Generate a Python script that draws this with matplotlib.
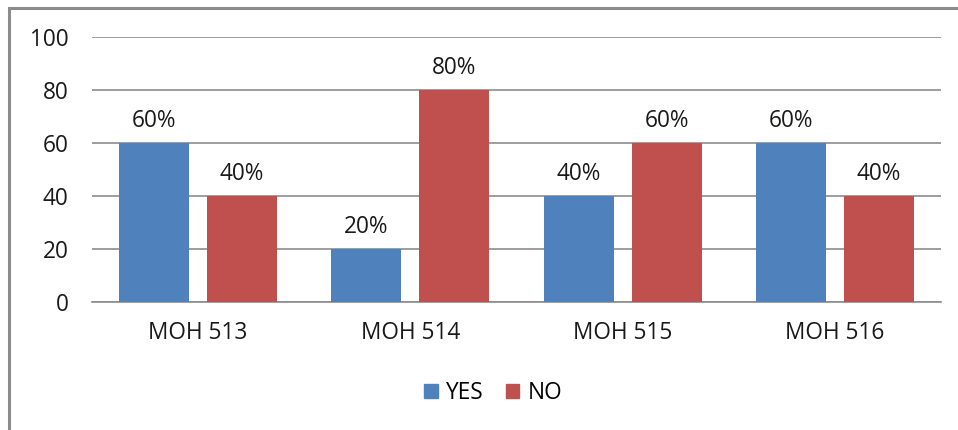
import matplotlib
matplotlib.use("Agg")
import matplotlib.pyplot as plt
from matplotlib.patches import Rectangle, Patch
import numpy as np

categories = ["MOH 513", "MOH 514", "MOH 515", "MOH 516"]
yes_vals = [60, 20, 40, 60]
no_vals = [40, 80, 60, 40]
series_names = ["YES", "NO"]
yticks = [0, 20, 40, 60, 80, 100]

BLUE = "#4F81BD"
RED = "#C0504D"
FONT = ["Open Sans", "DejaVu Sans"]
plt.rcParams["font.family"] = FONT

W, H = 958, 430
fig = plt.figure(figsize=(W / 100, H / 100), dpi=100)
fig.patch.set_facecolor("white")

# outer chart border (extends beyond image on right/bottom)
fig.add_artist(Rectangle((9 / W, -0.1), 1.2, 1 - 8 / H + 0.1, transform=fig.transFigure,
                         fill=False, edgecolor="#8c8c8c", linewidth=2.2))

ax = fig.add_axes([92 / W, 1 - 302 / H, (941 - 92) / W, (302 - 37) / H])
x = np.arange(len(categories))
bw = 0.33
off = 0.2075
b1 = ax.bar(x - off, yes_vals, bw, color=BLUE, zorder=3)
b2 = ax.bar(x + off, no_vals, bw, color=RED, zorder=3)

FS = 16.3
for bars, vals in ((b1, yes_vals), (b2, no_vals)):
    for rect, v in zip(bars, vals):
        ax.annotate(f"{v}%", (rect.get_x() + rect.get_width() / 2, v),
                    xytext=(0, 10), textcoords="offset pixels",
                    ha="center", va="bottom", fontsize=FS, color="#1a1a1a")

ax.set_xlim(-0.5, len(categories) - 0.5)
ax.set_ylim(0, 100)
ax.set_yticks(yticks)
ax.set_xticks(x)
ax.set_xticklabels(categories)
ax.tick_params(axis="both", length=0, labelsize=FS, colors="#1a1a1a")
ax.tick_params(axis="y", pad=17)
ax.tick_params(axis="x", pad=14)
ax.yaxis.grid(True, color="#8c8c8c", linewidth=1.2, zorder=0)
for s in ["top", "right", "left"]:
    ax.spines[s].set_visible(False)
ax.spines["bottom"].set_color("#8c8c8c")
ax.spines["bottom"].set_linewidth(1.2)

handles = [Patch(color=BLUE), Patch(color=RED)]
fig.legend(handles, series_names, loc="center", bbox_to_anchor=(493 / W, 1 - 393 / H),
           ncol=2, frameon=False, fontsize=FS, handlelength=0.6, handleheight=0.6,
           handletextpad=0.35, columnspacing=1.0)

fig.savefig("out.png", dpi=100)
